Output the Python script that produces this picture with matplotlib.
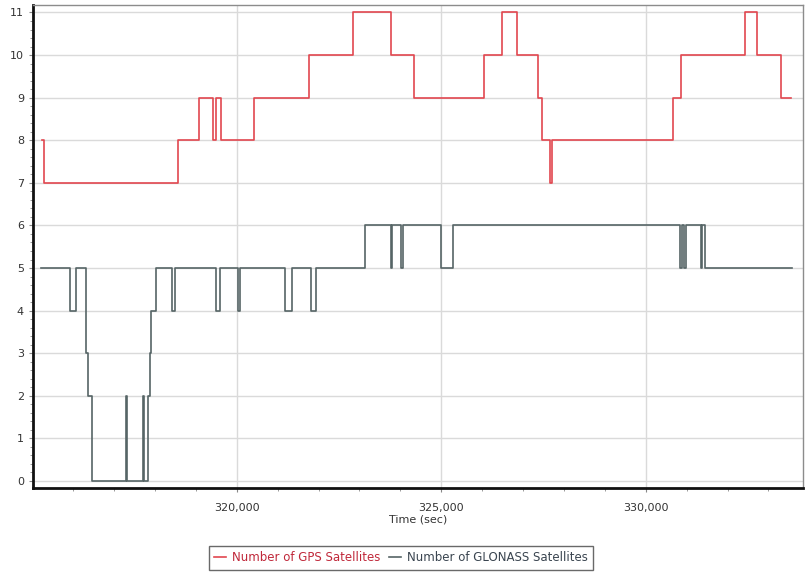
import matplotlib
matplotlib.use("Agg")
import matplotlib.pyplot as plt
from matplotlib.ticker import MultipleLocator, FuncFormatter

# change points (time in sec, satellite count), held until the next point
gps_time = [315230, 315290, 318565, 319085, 319428, 319485, 319615, 320430,
            321775, 322850, 323765, 324340, 326045, 326480, 326845, 327375,
            327465, 327670, 327710, 330675, 330870, 332420, 332715, 333315,
            333560]
gps_count = [8, 7, 8, 9, 8, 9, 8, 9,
             10, 11, 10, 9, 10, 11, 10, 9,
             8, 7, 8, 9, 10, 11, 10, 9,
             9]

glo_time = [315215, 315935, 316060, 316305, 316365, 316460, 317290, 317305,
            317720, 317745, 317820, 317880, 317915, 318025, 318425, 318485,
            319500, 319580, 320040, 320080, 321180, 321345, 321810, 321930,
            323135, 323765, 323805, 324010, 324065, 325000, 325295, 330840,
            330895, 330935, 330980, 331345, 331385, 331445, 333565]
glo_count = [5, 4, 5, 3, 2, 0, 2, 0,
             2, 0, 2, 3, 4, 5, 4, 5,
             4, 5, 4, 5, 4, 5, 4, 5,
             6, 5, 6, 5, 6, 5, 6, 5,
             6, 5, 6, 5, 6, 5, 5]

red = "#e2474f"
grey = "#566566"

fig = plt.figure(figsize=(8.06, 5.81), dpi=100)
ax = fig.add_axes([0.041, 0.160, 0.955, 0.831])

ax.plot(gps_time, gps_count, drawstyle="steps-post", color=red, lw=1.2,
        label="Number of GPS Satellites", zorder=3)
ax.plot(glo_time, glo_count, drawstyle="steps-post", color=grey, lw=1.2,
        label="Number of GLONASS Satellites", zorder=3)

ax.set_xlim(315020, 333840)
ax.set_ylim(-0.165, 11.17)

ax.xaxis.set_major_locator(MultipleLocator(5000))
ax.xaxis.set_minor_locator(MultipleLocator(1000))
ax.xaxis.set_major_formatter(FuncFormatter(lambda v, p: f"{int(v):,}"))
ax.yaxis.set_major_locator(MultipleLocator(1))
ax.yaxis.set_minor_locator(MultipleLocator(0.2))

ax.grid(True, which="major", color="#dadada", lw=1.0, zorder=0)
ax.tick_params(axis="both", which="major", labelsize=8, colors="#888888",
               labelcolor="#333333", length=3, width=0.8)
ax.tick_params(axis="both", which="minor", colors="#999999", length=2, width=0.7)
ax.tick_params(axis="x", pad=8)

for side in ("top", "right"):
    ax.spines[side].set_color("#8c8c8c")
    ax.spines[side].set_linewidth(1.0)
for side in ("left", "bottom"):
    ax.spines[side].set_color("#111111")
    ax.spines[side].set_linewidth(2.0)

ax.set_xlabel("Time (sec)", fontsize=8, color="#333333", labelpad=1)

leg = fig.legend(loc="center", bbox_to_anchor=(0.4975, 0.0396), ncol=2,
                 fontsize=8.5, frameon=True, fancybox=False, handlelength=1.0,
                 handletextpad=0.5, columnspacing=0.8, borderpad=0.45)
leg.get_frame().set_edgecolor("#444444")
leg.get_frame().set_linewidth(1.0)
leg.get_texts()[0].set_color("#c0283a")
leg.get_texts()[1].set_color("#3a4550")

fig.savefig("out.png", dpi=100)
